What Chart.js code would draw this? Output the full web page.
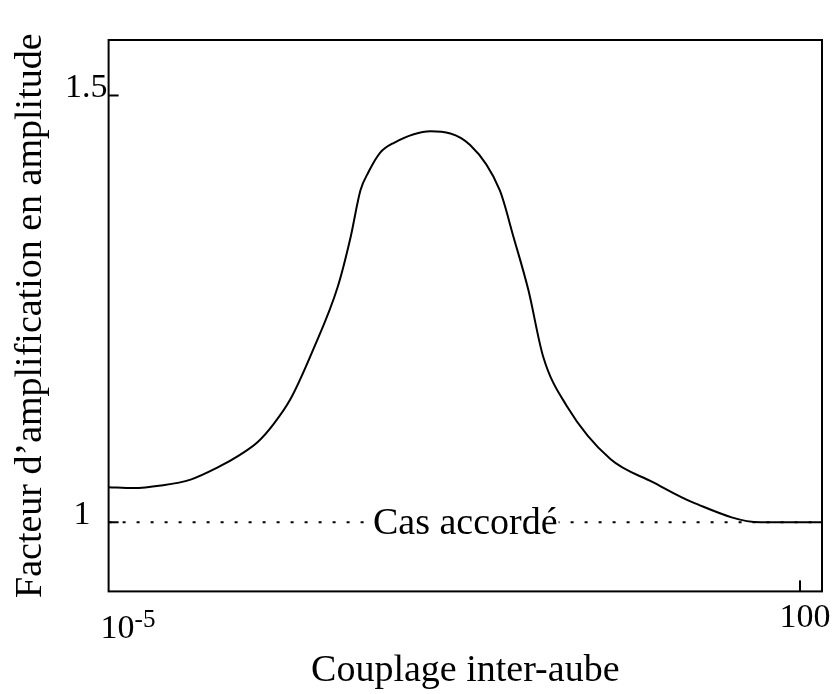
<!DOCTYPE html>
<html>
<head>
<meta charset="utf-8">
<script src="https://cdn.jsdelivr.net/npm/chart.js@4/dist/chart.umd.min.js"></script>
<style>
  html, body { margin: 0; padding: 0; background: #fff; }
  #wrap { width: 836px; height: 694px; }
</style>
</head>
<body>
<div id="wrap"><canvas id="chart" width="836" height="694"></canvas></div>
<script>
// ─── Data ─────────────────────────────────────────────────

// coupling read as powers of ten along the log axis
const couplingExp = [-5, -4.75, -4.47, -4.17, -3.9, -3.67, -3.49, -3.33, -3.16, -2.93, -2.68,
  -2.55, -2.45, -2.37, -2.25, -2.12, -1.74, -1.34, -1.04, -0.9, -0.75, -0.6, -0.36,
  0.08, 0.51, 0.92, 1.6, 2.22];
const amplification = [1.041, 1.040, 1.043, 1.050, 1.064, 1.079, 1.094, 1.115, 1.144, 1.202, 1.276,
  1.334, 1.389, 1.410, 1.433, 1.444, 1.458, 1.442, 1.389, 1.334, 1.272, 1.194, 1.136,
  1.074, 1.047, 1.023, 1.000, 1.000];

const tunedLevel = 1;              // "Cas accordé"
const xRange = [1e-5, 167];
const yRange = [0.919, 1.565];

const yTickValues = [1, 1.5];
const yTickLabels = ['1', '1.5'];
const xTickValues = [1e-5, 100];
const xTickLabels = [['10', '-5'], ['100', '']];

const serif = '"Liberation Serif", "Times New Roman", serif';

// ─── Frame, inward ticks, labels ──────────────────────────

const decor = {
  id: 'decor',
  afterDatasetsDraw(chart) {
    const { ctx, chartArea: a, scales: { x, y } } = chart;
    ctx.save();

    // tuned-case label sitting on the dotted line
    ctx.font = '38px ' + serif;
    const txt = 'Cas accordé';
    const cx = (a.left + a.right) / 2;
    const w = ctx.measureText(txt).width;
    const ly = y.getPixelForValue(tunedLevel);
    ctx.fillStyle = '#fff';
    ctx.fillRect(cx - w / 2 - 1, ly - 6, w + 2, 12);
    ctx.fillStyle = '#000';
    ctx.textAlign = 'center';
    ctx.textBaseline = 'alphabetic';
    ctx.fillText(txt, cx, ly + 12);

    // frame
    ctx.strokeStyle = '#000';
    ctx.lineWidth = 2;
    ctx.strokeRect(a.left, a.top, a.right - a.left, a.bottom - a.top);

    // y ticks (inward) and labels
    ctx.font = '34px ' + serif;
    ctx.textAlign = 'right';
    yTickValues.forEach((v, i) => {
      const py = y.getPixelForValue(v);
      ctx.beginPath();
      ctx.moveTo(a.left, py);
      ctx.lineTo(a.left + 10, py);
      ctx.stroke();
      const shift = yTickLabels[i].length > 1 ? 1 : 18;
      ctx.fillText(yTickLabels[i], a.left - shift, py + 2);
    });

    // x ticks (inward) and labels
    xTickValues.forEach((v, i) => {
      const px = x.getPixelForValue(v);
      const [base, sup] = xTickLabels[i];
      if (px > a.left + 2) {
        ctx.beginPath();
        ctx.moveTo(px, a.bottom);
        ctx.lineTo(px, a.bottom - 11);
        ctx.stroke();
      }
      ctx.textAlign = 'left';
      ctx.font = '34px ' + serif;
      const bw = ctx.measureText(base).width;
      if (sup) {
        ctx.fillText(base, px - 8, a.bottom + 47);
        ctx.font = '25px ' + serif;
        ctx.fillText(sup, px - 8 + bw, a.bottom + 36);
      } else {
        ctx.fillText(base, px + 5 - bw / 2, a.bottom + 36);
      }
    });

    ctx.restore();
  }
};

// ─── Chart ────────────────────────────────────────────────

Chart.defaults.font.family = serif;
Chart.defaults.color = '#000';

const curve = couplingExp.map((e, i) => ({ x: Math.pow(10, e), y: amplification[i] }));
const tunedLine = xRange.map(v => ({ x: v, y: tunedLevel }));

new Chart(document.getElementById('chart').getContext('2d'), {
  type: 'line',
  data: {
    datasets: [
      {
        data: tunedLine,
        borderColor: '#000',
        borderWidth: 2,
        borderDash: [3, 11],
        pointRadius: 0
      },
      {
        data: curve,
        borderColor: '#000',
        borderWidth: 2,
        pointRadius: 0,
        cubicInterpolationMode: 'monotone'
      }
    ]
  },
  options: {
    responsive: false,
    animation: false,
    layout: { padding: { top: 40, right: 14, left: 0, bottom: 0 } },
    plugins: { legend: { display: false }, tooltip: { enabled: false } },
    scales: {
      x: {
        type: 'logarithmic',
        min: xRange[0],
        max: xRange[1],
        grid: { display: false, drawTicks: false },
        border: { display: false },
        ticks: { display: false },
        title: {
          display: true,
          text: 'Couplage inter-aube',
          font: { size: 38, family: serif },
          color: '#000',
          padding: { top: 57, bottom: 0 }
        }
      },
      y: {
        type: 'linear',
        min: yRange[0],
        max: yRange[1],
        grid: { display: false, drawTicks: false },
        border: { display: false },
        ticks: { display: false },
        title: {
          display: true,
          text: 'Facteur d\u2019amplification en amplitude',
          font: { size: 38, family: serif },
          color: '#000',
          padding: { top: 8, bottom: 55 }
        }
      }
    }
  },
  plugins: [decor]
});
</script>
</body>
</html>
